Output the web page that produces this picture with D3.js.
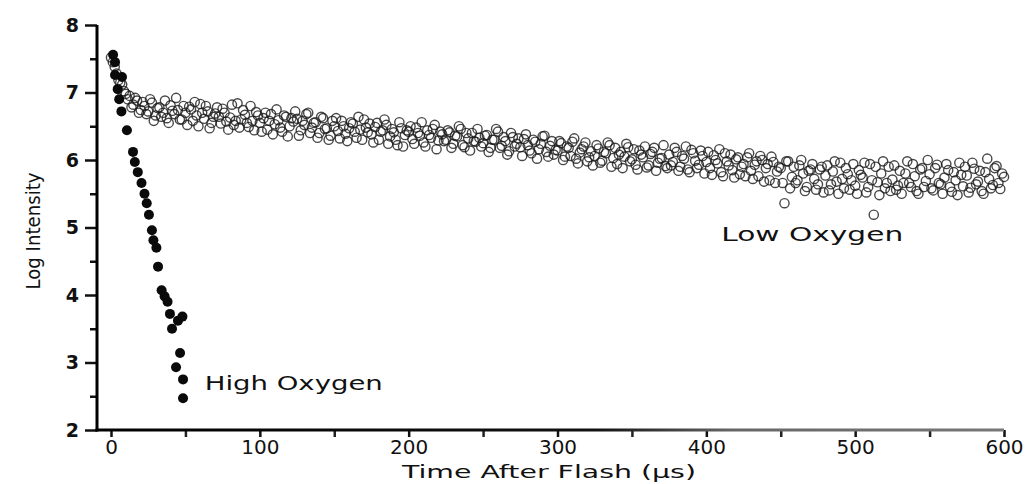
<!DOCTYPE html>
<html><head><meta charset="utf-8">
<script src="https://cdn.jsdelivr.net/npm/d3@7"></script>
<style>
html,body{margin:0;padding:0;background:#fff;}
svg{display:block;}
text{font-family:"DejaVu Sans",sans-serif;fill:#111;}
</style></head>
<body><svg id="c" width="1036" height="484"></svg>
<script>
// ---- data ----
const xTicks = [0,100,200,300,400,500,600];
const yTicks = [2,3,4,5,6,7,8];
const xLabel = "Time After Flash (\u00b5s)";
const yLabel = "Log Intensity";

// High oxygen (filled dots)
const hiTime  = [1.4,2.7,2.7,7.4,4.5,5.5,7,10.7,14.8,16,18,20.5,22.5,24,25.5,27.5,28.5,30.5,31.6,34,36,38,39.6,41,45,48,46.4,43.7,48.4,48.4];
const hiValue = [7.56,7.45,7.26,7.23,7.05,6.9,6.72,6.44,6.12,5.97,5.82,5.66,5.5,5.36,5.19,4.96,4.81,4.7,4.42,4.07,3.98,3.9,3.72,3.5,3.62,3.68,3.14,2.93,2.75,2.47];

// Low oxygen (open circles): samples every 2.5 µs from 0 to 600 ...
const loStartA = 0, loStep = 2.5;
const loValueA = [
 7.52,7.38,7.18,7.12,6.98,6.95,6.82,6.88,6.74,6.80,
 6.72,6.85,6.66,6.78,6.70,6.62,6.81,6.68,6.74,6.60,
 6.70,6.79,6.58,6.66,6.83,6.61,6.72,6.55,6.69,6.64,
 6.76,6.57,6.63,6.52,6.84,6.60,6.67,6.49,6.58,6.71,
 6.55,6.62,6.45,6.68,6.53,6.59,6.42,6.64,6.50,6.57,
 6.61,6.44,6.52,6.70,6.48,6.56,6.40,6.62,6.47,6.36,
 6.50,6.43,6.58,6.39,6.47,6.54,6.33,6.45,6.60,6.41,
 6.38,6.49,6.30,6.44,6.52,6.35,6.41,6.22,6.47,6.37,
 6.42,6.31,6.48,6.36,6.26,6.44,6.33,6.52,6.29,6.38,
 6.30,6.41,6.24,6.35,6.46,6.19,6.32,6.40,6.27,6.33,
 6.25,6.37,6.18,6.30,6.42,6.21,6.28,6.13,6.34,6.24,
 6.19,6.31,6.22,6.10,6.27,6.16,6.35,6.12,6.21,6.08,
 6.14,6.25,6.05,6.18,6.27,6.02,6.11,6.20,5.98,6.13,
 6.06,6.17,5.99,6.10,6.22,6.03,5.94,6.12,6.05,6.19,
 6.01,5.93,6.14,6.04,5.89,6.09,6.18,5.96,6.03,5.91,
 6.08,5.97,6.12,5.90,6.02,5.86,6.15,5.99,5.93,6.06,
 5.97,5.88,6.07,5.95,5.82,6.10,5.92,5.85,6.01,5.79,
 5.94,6.04,5.84,5.93,5.76,6.00,5.88,5.70,5.97,5.83,
 5.88,5.36,5.98,5.75,5.66,5.92,5.80,5.60,5.86,5.72,
 5.64,5.90,5.77,5.55,5.83,5.68,5.96,5.58,5.79,5.70,
 5.62,5.85,5.74,5.52,5.94,5.19,5.67,5.80,5.58,5.90,
 5.71,5.56,5.84,5.66,5.98,5.60,5.76,5.50,5.88,5.69,
 5.79,5.55,5.93,5.64,5.74,5.85,5.53,5.70,5.96,5.61,
 5.77,5.59,5.87,5.68,5.54,5.82,5.72,5.63,5.91,5.57,
 5.75
];
// ... and the interleaved samples at 1.25 + 2.5·i µs
const loStartB = 1.25;
const loValueB = [
 7.45,7.28,7.15,7.02,6.90,6.78,6.92,6.70,6.86,6.68,
 6.90,6.58,6.77,6.64,6.88,6.55,6.73,6.92,6.60,6.80,
 6.52,6.75,6.86,6.50,6.70,6.80,6.47,6.64,6.78,6.54,
 6.70,6.45,6.82,6.58,6.48,6.74,6.55,6.80,6.44,6.66,
 6.42,6.70,6.58,6.38,6.75,6.48,6.66,6.35,6.62,6.72,
 6.36,6.58,6.68,6.40,6.55,6.33,6.64,6.46,6.30,6.58,
 6.62,6.32,6.50,6.28,6.56,6.42,6.64,6.30,6.48,6.54,
 6.26,6.55,6.42,6.60,6.24,6.46,6.30,6.56,6.20,6.44,
 6.50,6.24,6.40,6.56,6.20,6.37,6.46,6.16,6.42,6.28,
 6.44,6.18,6.36,6.50,6.22,6.40,6.14,6.28,6.46,6.20,
 6.36,6.12,6.30,6.46,6.18,6.34,6.08,6.40,6.20,6.32,
 6.06,6.38,6.14,6.30,6.02,6.24,6.36,6.05,6.28,6.15,
 6.28,6.00,6.20,6.06,6.32,5.95,6.16,6.26,6.04,5.92,
 6.22,5.96,6.12,6.26,5.90,6.18,6.08,5.88,6.24,5.98,
 6.16,5.86,6.08,6.20,5.92,6.12,5.84,6.02,6.22,5.88,
 5.92,6.18,5.84,6.06,6.20,5.82,6.10,5.88,6.14,5.80,
 6.12,5.78,6.00,6.16,5.76,5.98,6.08,5.74,6.04,5.90,
 5.76,6.10,5.72,5.98,6.06,5.68,5.94,6.05,5.66,5.90,
 5.66,5.98,5.58,5.90,5.70,6.00,5.54,5.84,5.94,5.56,
 5.86,5.52,5.92,5.64,5.98,5.50,5.72,5.88,5.56,5.94,
 5.50,5.78,5.96,5.60,5.70,5.90,5.48,5.98,5.66,5.54,
 5.92,5.62,5.50,5.80,5.66,5.94,5.54,5.86,5.60,6.00,
 5.58,5.88,5.66,5.50,5.94,5.60,5.82,5.48,5.78,5.90,
 5.52,5.96,5.64,5.84,5.50,6.02,5.58,5.88,5.66,5.80
];

const labels = [
  {text:"High Oxygen", t:63, v:2.6, len:178},
  {text:"Low Oxygen",  t:410, v:4.8, len:182}
];

// ---- chart ----
const svg = d3.select("#c");
const x = d3.scaleLinear().domain([0,600]).range([111,1004]);
const y = d3.scaleLinear().domain([2,8]).range([430,25]);
const axisX0 = 97, axisY0 = 430;

// gradient for the faded x axis line
const defs = svg.append("defs");
const g = defs.append("linearGradient").attr("id","fade").attr("gradientUnits","userSpaceOnUse")
  .attr("x1",axisX0).attr("x2",x(600)).attr("y1",0).attr("y2",0);
g.append("stop").attr("offset","0%").attr("stop-color","#000");
g.append("stop").attr("offset","55%").attr("stop-color","#111");
g.append("stop").attr("offset","70%").attr("stop-color","#666");
g.append("stop").attr("offset","100%").attr("stop-color","#777");

// y axis major
const yAx = svg.append("g").attr("transform",`translate(${axisX0},0)`)
  .call(d3.axisLeft(y).tickValues(yTicks).tickSize(12).tickPadding(6).tickFormat(d3.format("d")));
yAx.select(".domain").remove();
yAx.selectAll("line").attr("stroke","#111").attr("stroke-width",2.5);
yAx.selectAll("text").style("font-size","19px").style("font-family","DejaVu Sans").style("font-weight","bold");
// y axis minor
const yMin = svg.append("g").attr("transform",`translate(${axisX0},0)`)
  .call(d3.axisLeft(y).tickValues(yTicks.slice(0,-1).map(d=>d+0.5)).tickSize(7).tickFormat(""));
yMin.select(".domain").remove();
yMin.selectAll("line").attr("stroke","#111").attr("stroke-width",2.5);

// x axis major
const xAx = svg.append("g").attr("transform",`translate(0,${axisY0})`)
  .call(d3.axisBottom(x).tickValues(xTicks).tickSize(7).tickPadding(3).tickFormat(d3.format("d")));
xAx.select(".domain").remove();
xAx.selectAll("line").attr("stroke","#111").attr("stroke-width",2.5);
xAx.selectAll("text").style("font-size","20px").style("font-family","DejaVu Sans");
const xMin = svg.append("g").attr("transform",`translate(0,${axisY0})`)
  .call(d3.axisBottom(x).tickValues(xTicks.slice(0,-1).map(d=>d+50)).tickSize(7).tickFormat(""));
xMin.select(".domain").remove();
xMin.selectAll("line").attr("stroke","#222").attr("stroke-width",2.5);

// axis lines
svg.append("line").attr("x1",axisX0).attr("x2",axisX0).attr("y1",y(8)).attr("y2",axisY0+1.5)
  .attr("stroke","#000").attr("stroke-width",3);
svg.append("line").attr("x1",axisX0-1.5).attr("x2",x(600)).attr("y1",axisY0).attr("y2",axisY0)
  .attr("stroke","url(#fade)").attr("stroke-width",3);

// axis titles
svg.append("text").attr("x",549).attr("y",478).attr("text-anchor","middle")
  .attr("textLength",294).attr("lengthAdjust","spacingAndGlyphs")
  .style("font-size","18px").text(xLabel);
svg.append("text").attr("transform","translate(40,231) rotate(-90)").attr("text-anchor","middle")
  .attr("textLength",117).attr("lengthAdjust","spacingAndGlyphs")
  .style("font-size","20px").text(yLabel);

// low oxygen open circles
const lo = loValueA.map((v,i)=>({t:loStartA+i*loStep, v}))
  .concat(loValueB.map((v,i)=>({t:loStartB+i*loStep, v})));
svg.append("g").selectAll("circle").data(lo).join("circle")
  .attr("cx",d=>x(d.t)).attr("cy",d=>y(d.v)).attr("r",4.6)
  .attr("fill","none").attr("stroke","#1a1a1a").attr("stroke-width",1.4).attr("stroke-opacity",0.8);

// high oxygen filled dots
const hi = hiTime.map((t,i)=>({t, v:hiValue[i]}));
svg.append("g").selectAll("circle").data(hi).join("circle")
  .attr("cx",d=>x(d.t)).attr("cy",d=>y(d.v)).attr("r",5)
  .attr("fill","#0a0a0a");

// series labels
svg.append("g").selectAll("text").data(labels).join("text")
  .attr("x",d=>x(d.t)).attr("y",d=>y(d.v))
  .attr("textLength",d=>d.len).attr("lengthAdjust","spacingAndGlyphs")
  .style("font-size","20px").text(d=>d.text);
</script></body></html>
